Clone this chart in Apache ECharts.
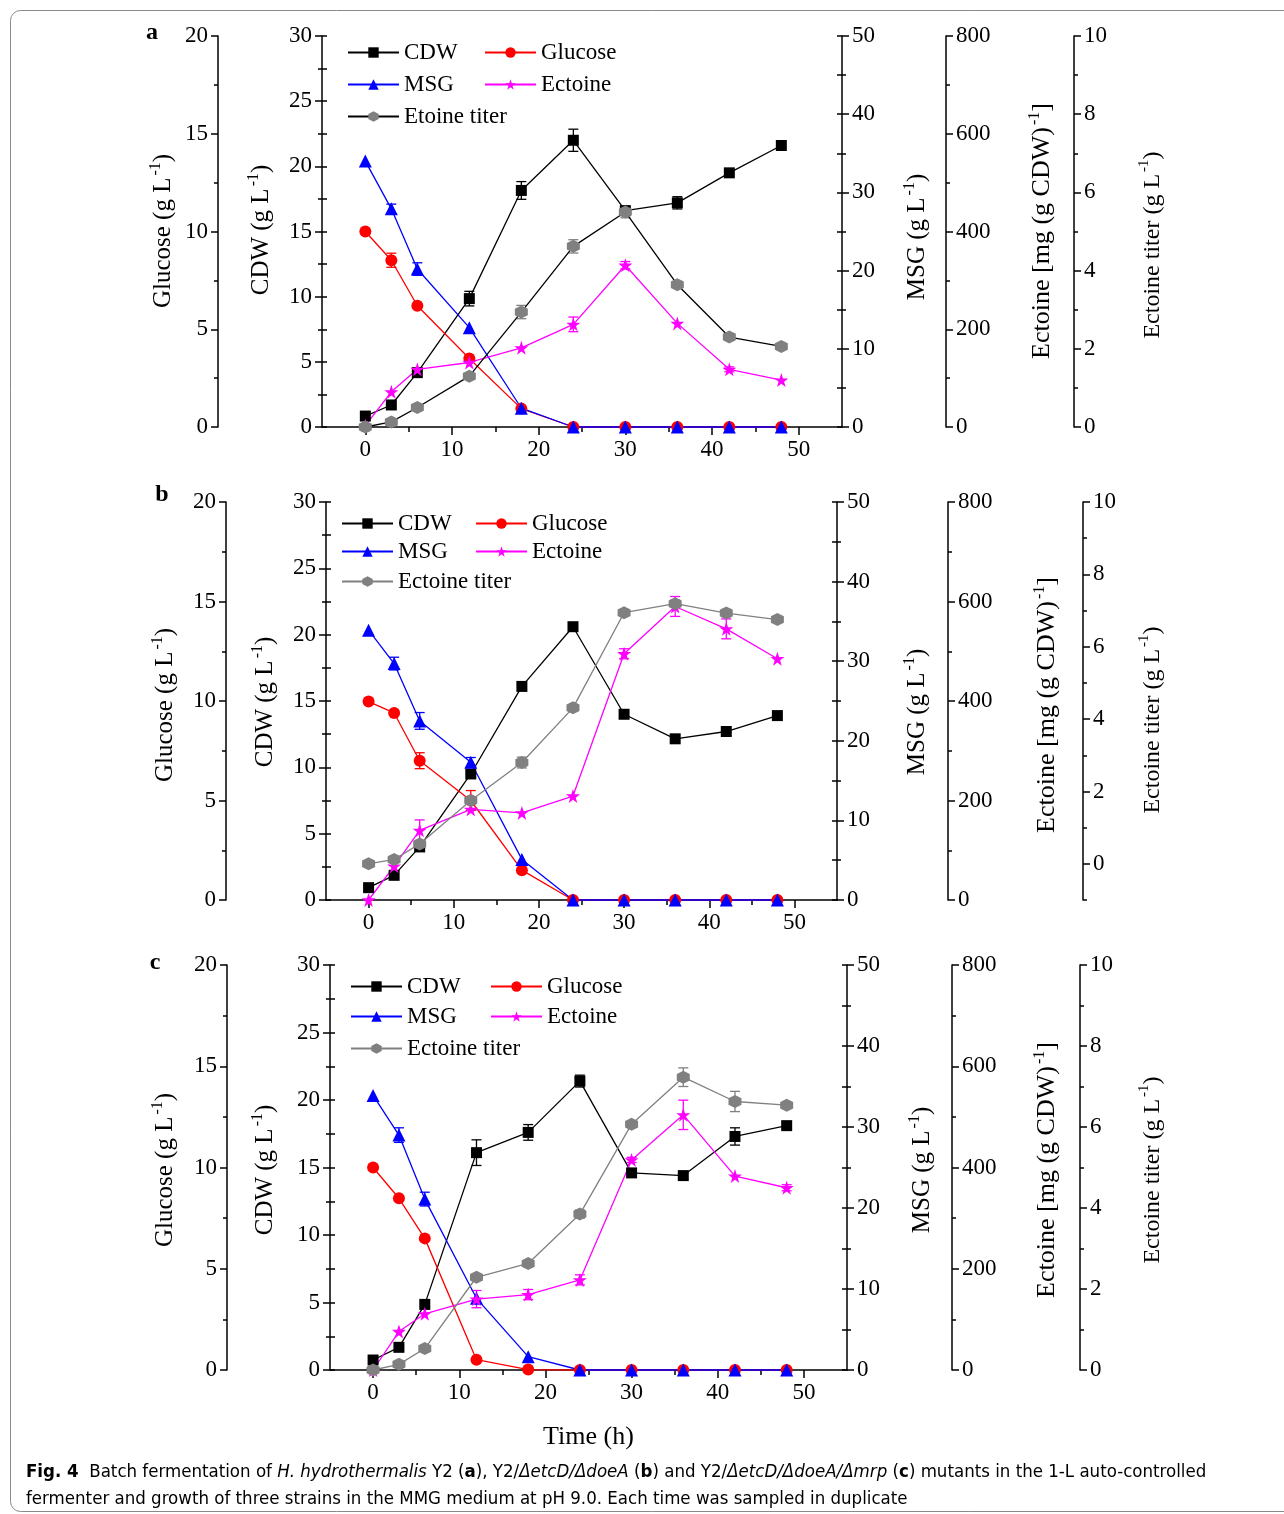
<!DOCTYPE html>
<html>
<head>
<meta charset="utf-8">
<script src="https://cdn.jsdelivr.net/npm/echarts@6/dist/echarts.min.js"></script>
<style>
html,body{margin:0;padding:0;background:#fff;}
#chart{width:1284px;height:1514px;}
</style>
</head>
<body>
<div id="chart"></div>
<script>
// ---------------- DATA ----------------
const times = [0, 3, 6, 12, 18, 24, 30, 36, 42, 48];
const timeTicks = [0, 10, 20, 30, 40, 50];
const timeMinorTicks = [5, 15, 25, 35, 45];

// Panel a: H. hydrothermalis Y2
const a_cdw = [0.84, 1.69, 4.17, 9.85, 18.15, 22.0, 16.6, 17.2, 19.5, 21.6];
const a_cdwErr = [0, 0, 0, 0.56, 0.68, 0.85, 0.2, 0.47, 0, 0];
const a_glucose = [10.0, 8.53, 6.2, 3.5, 0.94, 0, 0, 0, 0, 0];
const a_glucoseErr = [0, 0.36, 0, 0, 0, 0, 0, 0, 0, 0];
const a_msg = [34.0, 27.9, 20.2, 12.7, 2.4, 0, 0, 0, 0, 0];
const a_msgErr = [0, 0.6, 0.8, 0, 0, 0, 0, 0, 0, 0];
const a_ectoine = [3, 72, 118, 132, 162, 210, 331, 212, 118, 96];
const a_ectoineErr = [0, 0, 0, 0, 0, 15, 7.5, 0, 5, 0];
const a_titer = [0, 0.13, 0.5, 1.3, 2.94, 4.62, 5.5, 3.64, 2.3, 2.06];
const a_titerErr = [0, 0, 0, 0, 0.17, 0.17, 0.15, 0, 0, 0];

// Panel b: Y2/ΔetcD/ΔdoeA
const b_cdw = [0.93, 1.86, 4.0, 9.5, 16.1, 20.6, 14.0, 12.15, 12.7, 13.9];
const b_cdwErr = [0, 0, 0, 0, 0.3, 0.3, 0, 0, 0, 0];
const b_glucose = [9.97, 9.4, 7.0, 5.0, 1.5, 0, 0, 0, 0, 0];
const b_glucoseErr = [0, 0, 0.4, 0.5, 0, 0, 0, 0, 0, 0];
const b_msg = [33.9, 29.7, 22.5, 17.3, 5.1, 0, 0, 0, 0, 0];
const b_msgErr = [0, 0.8, 1.05, 0.6, 0, 0, 0, 0, 0, 0];
const b_ectoine = [0, 68, 140, 182, 175, 209, 495, 590, 545, 485];
const b_ectoineErr = [0, 0, 21, 0, 0, 0, 10, 20, 20, 0];
const b_titer = [0, 0.12, 0.55, 1.75, 2.8, 4.31, 6.94, 7.19, 6.93, 6.75];
const b_titerErr = [0, 0, 0, 0, 0.15, 0, 0, 0.1, 0.1, 0];

// Panel c: Y2/ΔetcD/ΔdoeA/Δmrp
const c_cdw = [0.74, 1.68, 4.86, 16.1, 17.6, 21.4, 14.6, 14.4, 17.3, 18.1];
const c_cdwErr = [0, 0, 0, 0.95, 0.58, 0.44, 0, 0.2, 0.64, 0.2];
const c_glucose = [10.0, 8.48, 6.5, 0.51, 0.02, 0, 0, 0, 0, 0];
const c_glucoseErr = [0, 0, 0, 0, 0, 0, 0, 0, 0, 0];
const c_msg = [33.9, 29.0, 21.1, 8.85, 1.65, 0, 0, 0, 0, 0];
const c_msgErr = [0, 0.9, 0.85, 0, 0, 0, 0, 0, 0, 0];
const c_ectoine = [0, 76, 111, 140, 149, 178, 415, 504, 383, 360];
const c_ectoineErr = [0, 0, 0, 17, 10, 10, 5, 29, 0, 6];
const c_titer = [0, 0.14, 0.53, 2.29, 2.63, 3.85, 6.07, 7.23, 6.63, 6.54];
const c_titerErr = [0, 0, 0, 0, 0, 0.1, 0, 0.23, 0.25, 0];

const titerTicks = [0, 2, 4, 6, 8, 10];
const titerMinorTicksB = [-1, 1, 3, 5, 7, 9];

// ---------------- STYLE / BUILD ----------------
const SERIF = "Liberation Serif";
const SANS_N = "DejaVu Sans Condensed";
const STAR = 'path://M50,0 L61.8,35.1 L98.1,35.1 L68.8,56.8 L79.4,91.9 L50,70 L20.6,91.9 L31.2,56.8 L1.9,35.1 L38.2,35.1 Z';
const HEX = 'path://M50,0 L93.3,25 L93.3,75 L50,100 L6.7,75 L6.7,25 Z';
const AX = {color: '#000', width: 1.5};

const grids = [], xAxes = [], yAxes = [], series = [], legends = [], graphics = [];

function yAx(g, pos, offset, min, max, interval, extra) {
  const ax = {
    type: 'value', gridIndex: g, position: pos, offset: offset, min: min, max: max,
    axisLine: {show: true, onZero: false, lineStyle: AX},
    axisTick: {show: true, inside: false, length: 7, lineStyle: AX},
    minorTick: {show: true, splitNumber: 2, length: 4, lineStyle: AX},
    axisLabel: {show: true, fontSize: 23, fontFamily: SERIF, color: '#000', margin: 10},
    splitLine: {show: false}, minorSplitLine: {show: false}
  };
  if (interval != null) ax.interval = interval;
  if (extra) {
    for (const k in extra) {
      if (typeof extra[k] === 'object' && !Array.isArray(extra[k]) && ax[k]) ax[k] = Object.assign({}, ax[k], extra[k]);
      else ax[k] = extra[k];
    }
  }
  yAxes.push(ax);
  return yAxes.length - 1;
}

function errSeries(xi, yi, vals, errs, color) {
  const data = [];
  times.forEach((t, i) => { if (errs[i] > 0) data.push([t, vals[i], errs[i]]); });
  return {
    type: 'custom', xAxisIndex: xi, yAxisIndex: yi, data: data, z: 3, silent: true, clip: false,
    encode: {x: 0, y: 1},
    renderItem: function (params, api) {
      const t = api.value(0), v = api.value(1), e = api.value(2);
      const p1 = api.coord([t, v + e]), p2 = api.coord([t, v - e]);
      const w = 5, st = {stroke: color, lineWidth: 1.3};
      return {type: 'group', children: [
        {type: 'line', shape: {x1: p1[0], y1: p1[1], x2: p2[0], y2: p2[1]}, style: st},
        {type: 'line', shape: {x1: p1[0] - w, y1: p1[1], x2: p1[0] + w, y2: p1[1]}, style: st},
        {type: 'line', shape: {x1: p2[0] - w, y1: p2[1], x2: p2[0] + w, y2: p2[1]}, style: st}
      ]};
    }
  };
}

function lineSeries(name, xi, yi, vals, symbol, size, color, lineColor) {
  return {
    type: 'line', name: name, xAxisIndex: xi, yAxisIndex: yi,
    data: times.map((t, i) => [t, vals[i]]),
    symbol: symbol, symbolSize: size, showSymbol: true, clip: false, z: 4,
    itemStyle: {color: color, borderWidth: 0},
    lineStyle: {color: lineColor || color, width: 1.3},
    emphasis: {disabled: true}
  };
}

function legendItem(name, left, top) {
  legends.push({
    data: [name], left: left, top: top, padding: 0, itemWidth: 51, itemHeight: 13,
    itemGap: 0, selectedMode: false,
    textStyle: {fontSize: 23, fontFamily: SERIF, color: '#000'}
  });
}

function axisName(x, y, main, sup, tail, size) {
  graphics.push({
    type: 'text', x: x, y: y, rotation: Math.PI / 2, silent: true,
    style: {
      text: '{m|' + main + '}{s|' + sup + '}{m|' + tail + '}',
      align: 'center', verticalAlign: 'middle', textAlign: 'center', textVerticalAlign: 'middle',
      rich: {
        m: {fontSize: size, fontFamily: SERIF, color: '#000', lineHeight: 30, verticalAlign: 'bottom'},
        s: {fontSize: Math.round(size * 0.62), fontFamily: SERIF, color: '#000', lineHeight: 30, verticalAlign: 'top', padding: [2, 0, 0, 2]}
      }
    }
  });
}

function addPanel(cfg, d) {
  const g = grids.length;
  grids.push({left: cfg.left, top: cfg.top, width: cfg.width, height: cfg.height, containLabel: false, outerBoundsMode: 'none'});
  const xi = xAxes.length;
  xAxes.push({
    type: 'value', gridIndex: g, position: 'bottom', min: -5, max: 55,
    axisLine: {show: true, onZero: false, lineStyle: AX},
    axisTick: {show: true, customValues: timeTicks, length: 8, lineStyle: AX},
    axisLabel: {show: true, customValues: timeTicks, fontSize: 23, fontFamily: SERIF, color: '#000', margin: 11},
    splitLine: {show: false},
    name: cfg.xName || '', nameLocation: 'middle', nameGap: 54,
    nameTextStyle: {fontSize: 26, fontFamily: SERIF, color: '#000'}
  });
  xAxes.push({
    type: 'value', gridIndex: g, position: 'bottom', min: -5, max: 55,
    axisLine: {show: false, onZero: false}, axisLabel: {show: false},
    axisTick: {show: true, customValues: timeMinorTicks, length: 5, lineStyle: AX},
    splitLine: {show: false}
  });
  const yGlu = yAx(g, 'left', cfg.gluOff, 0, 20, 5);
  const yCdw = yAx(g, 'left', 0, 0, 30, 5);
  yAx(g, 'left', 0, 0, 30, 2.5, {axisLine: {show: false, onZero: false}, axisTick: {inside: true, length: 5}, minorTick: {show: false}, axisLabel: {show: false}});
  const yMsg = yAx(g, 'right', 0, 0, 50, 10);
  yAx(g, 'right', 0, 0, 50, 5, {axisLine: {show: false, onZero: false}, axisTick: {inside: true, length: 5}, minorTick: {show: false}, axisLabel: {show: false}});
  const yEct = yAx(g, 'right', cfg.ectOff, 0, 800, 200);
  let yTit;
  if (cfg.titMin === 0) {
    yTit = yAx(g, 'right', cfg.titOff, 0, 10, 2);
  } else {
    yTit = yAx(g, 'right', cfg.titOff, cfg.titMin, 10, null, {
      axisTick: {customValues: titerTicks}, axisLabel: {customValues: titerTicks}, minorTick: {show: false}
    });
    yAx(g, 'right', cfg.titOff, cfg.titMin, 10, null, {
      axisLine: {show: false, onZero: false}, axisLabel: {show: false},
      axisTick: {customValues: titerMinorTicksB, length: 4}, minorTick: {show: false}
    });
  }
  // error bars
  series.push(errSeries(xi, yCdw, d.cdw, d.cdwErr, '#000'));
  series.push(errSeries(xi, yGlu, d.glucose, d.glucoseErr, '#ff0000'));
  series.push(errSeries(xi, yMsg, d.msg, d.msgErr, '#0000ff'));
  series.push(errSeries(xi, yEct, d.ectoine, d.ectoineErr, '#ff00ff'));
  series.push(errSeries(xi, yTit, d.titer, d.titerErr, '#808080'));
  // lines
  series.push(lineSeries('CDW', xi, yCdw, d.cdw, 'rect', 11, '#000000'));
  series.push(lineSeries('Glucose', xi, yGlu, d.glucose, 'circle', 12, '#ff0000'));
  series.push(lineSeries('MSG', xi, yMsg, d.msg, 'triangle', 13, '#0000ff'));
  series.push(lineSeries('Ectoine', xi, yEct, d.ectoine, STAR, 14, '#ff00ff'));
  series.push(lineSeries(cfg.titerName, xi, yTit, d.titer, HEX, 13, '#808080', cfg.titerLine));
  // legend
  const L = cfg.leg;
  legendItem('CDW', L[0], L[2]);
  legendItem('Glucose', L[1], L[2]);
  legendItem('MSG', L[0], L[3]);
  legendItem('Ectoine', L[1], L[3]);
  legendItem(cfg.titerName, L[0], L[4]);
  // axis names
  const N = cfg.names;
  axisName(N[0][0], N[0][1], 'Glucose (g L', '-1', ')', 25);
  axisName(N[1][0], N[1][1], 'CDW (g L', '-1', ')', 25);
  axisName(N[2][0], N[2][1], 'MSG (g L', '-1', ')', 25);
  axisName(N[3][0], N[3][1], 'Ectoine [mg (g CDW)', '-1', ']', 26);
  axisName(N[4][0], N[4][1], 'Ectoine titer (g L', '-1', ')', 24);
  // panel letter
  graphics.push({type: 'text', x: cfg.letter[0], y: cfg.letter[1], silent: true,
    style: {text: cfg.letter[2], fontSize: 24, fontWeight: 'bold', fontFamily: SERIF, fill: '#000',
      align: 'center', verticalAlign: 'middle', textAlign: 'center', textVerticalAlign: 'middle'}});
}

addPanel({left: 322, width: 520, top: 36, height: 391, gluOff: 104, ectOff: 104, titOff: 232, titMin: 0,
  titerName: 'Etoine titer', titerLine: '#000000',
  leg: [347, 484, 41, 73, 105],
  names: [[161, 231], [259, 230], [915, 237], [1040, 231], [1150, 245]],
  letter: [152, 33, 'a']},
  {cdw: a_cdw, cdwErr: a_cdwErr, glucose: a_glucose, glucoseErr: a_glucoseErr, msg: a_msg, msgErr: a_msgErr,
   ectoine: a_ectoine, ectoineErr: a_ectoineErr, titer: a_titer, titerErr: a_titerErr});

addPanel({left: 326, width: 511, top: 502, height: 398, gluOff: 100, ectOff: 111, titOff: 246, titMin: -1,
  titerName: 'Ectoine titer', titerLine: '#808080',
  leg: [341, 475, 512, 540, 570],
  names: [[163, 705], [263, 702], [915, 712], [1045, 705], [1150, 720]],
  letter: [162, 495, 'b']},
  {cdw: b_cdw, cdwErr: b_cdwErr, glucose: b_glucose, glucoseErr: b_glucoseErr, msg: b_msg, msgErr: b_msgErr,
   ectoine: b_ectoine, ectoineErr: b_ectoineErr, titer: b_titer, titerErr: b_titerErr});

addPanel({left: 330, width: 517, top: 965, height: 405, gluOff: 103, ectOff: 105, titOff: 233, titMin: 0,
  titerName: 'Ectoine titer', titerLine: '#808080', xName: 'Time (h)',
  leg: [350, 490, 975, 1005, 1037],
  names: [[163, 1170], [263, 1170], [920, 1170], [1045, 1170], [1150, 1170]],
  letter: [155, 963, 'c']},
  {cdw: c_cdw, cdwErr: c_cdwErr, glucose: c_glucose, glucoseErr: c_glucoseErr, msg: c_msg, msgErr: c_msgErr,
   ectoine: c_ectoine, ectoineErr: c_ectoineErr, titer: c_titer, titerErr: c_titerErr});

// frame
graphics.push({type: 'rect', silent: true, z: -1,
  shape: {x: 10.5, y: 10.5, width: 1300, height: 1501, r: 10},
  style: {fill: 'none', stroke: '#8a8a8a', lineWidth: 1}});

// caption
const capBase = {fontSize: 18.5, fontFamily: SANS_N, color: '#333'};
graphics.push({type: 'text', x: 26, y: 1459, silent: true,
  style: {
    text: '{b|Fig. 4}{n|  Batch fermentation of }{i|H. hydrothermalis}{n| Y2 (}{bb|a}{n|), Y2/}{i|ΔetcD/ΔdoeA}{n| (}{bb|b}{n|) and Y2/}{i|ΔetcD/ΔdoeA/Δmrp}{n| (}{bb|c}{n|) mutants in the 1-L auto-controlled}\n{n|fermenter and growth of three strains in the MMG medium at pH 9.0. Each time was sampled in duplicate}',
    align: 'left', verticalAlign: 'top', textAlign: 'left', textVerticalAlign: 'top',
    rich: {
      n: Object.assign({lineHeight: 27}, capBase),
      i: Object.assign({lineHeight: 27, fontStyle: 'italic'}, capBase),
      b: Object.assign({lineHeight: 27, fontWeight: 'bold'}, capBase, {color: '#222'}),
      bb: Object.assign({lineHeight: 27, fontWeight: 'bold'}, capBase)
    }
  }});

const chart = echarts.init(document.getElementById('chart'), null, {renderer: 'canvas'});
chart.setOption({
  animation: false,
  backgroundColor: '#ffffff',
  textStyle: {fontFamily: SERIF},
  grid: grids,
  xAxis: xAxes,
  yAxis: yAxes,
  legend: legends,
  series: series,
  graphic: graphics
});
</script>
</body>
</html>
